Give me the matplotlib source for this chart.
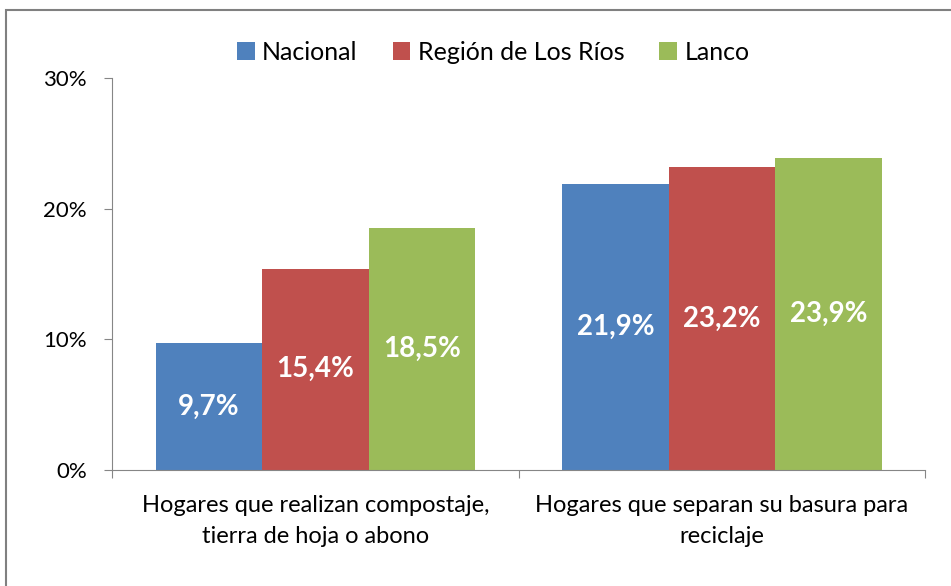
import numpy as np
import matplotlib.pyplot as plt
from matplotlib.patches import Rectangle
from matplotlib.ticker import FuncFormatter

plt.rcParams['font.family'] = ['Lato', 'DejaVu Sans']

categories = ['Hogares que realizan compostaje,\ntierra de hoja o abono',
              'Hogares que separan su basura para\nreciclaje']
series = ['Nacional', 'Región de Los Ríos', 'Lanco']
nacional = [9.7, 21.9]
region = [15.4, 23.2]
lanco = [18.5, 23.9]
values = [nacional, region, lanco]
labels = [['9,7%', '21,9%'], ['15,4%', '23,2%'], ['18,5%', '23,9%']]
colors = ['#4f81bd', '#c0504d', '#9bbb59']

fig = plt.figure(figsize=(9.51, 5.86), dpi=100)
ax = fig.add_axes([0.1178, 0.198, 0.855, 0.669])

x = np.arange(len(categories))
w = 0.262
for i in range(3):
    bars = ax.bar(x + (i - 1) * w, values[i], w, color=colors[i], label=series[i])
    for b, t in zip(bars, labels[i]):
        ax.text(b.get_x() + b.get_width() / 2, b.get_height() / 2, t,
                ha='center', va='center', color='white', fontsize=20, fontweight='bold')

ax.set_xlim(-0.5, 1.5)
ax.set_ylim(0, 30)
ax.set_yticks([0, 10, 20, 30])
ax.yaxis.set_major_formatter(FuncFormatter(lambda v, p: '%d%%' % v))
ax.set_xticks([-0.5, 0.5, 1.5])
ax.set_xticklabels([])
ax.set_xticks(x, minor=True)
ax.set_xticklabels(categories, minor=True, fontsize=17, linespacing=1.6)
ax.tick_params(axis='x', which='minor', length=0, pad=18)
ax.tick_params(axis='x', which='major', length=6, color='#868686', direction='out')
ax.tick_params(axis='y', length=6, color='#868686', labelsize=16, pad=12)

for s in ['top', 'right']:
    ax.spines[s].set_visible(False)
for s in ['left', 'bottom']:
    ax.spines[s].set_color('#868686')

ax.legend(loc='center', bbox_to_anchor=(0.469, 1.066), ncol=3, frameon=False,
          fontsize=18, handlelength=0.7, handleheight=0.7, handletextpad=0.3,
          columnspacing=1.4)

fig.add_artist(Rectangle((0.006, -0.1), 1.1, 0.983 + 0.1, transform=fig.transFigure,
                         fill=False, edgecolor='#808080', linewidth=1.5))

fig.savefig('out.png', dpi=100)
